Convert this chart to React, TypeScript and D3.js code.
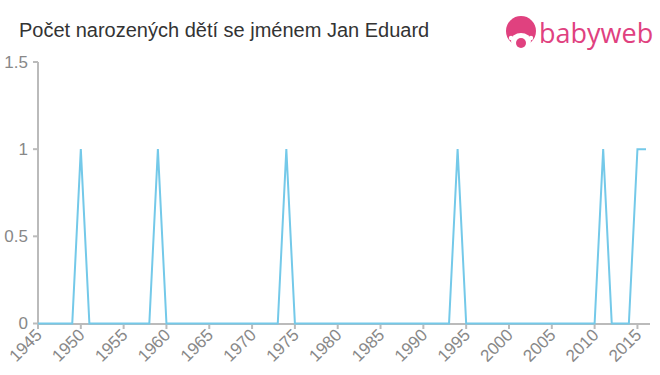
import React from "react";
import * as d3 from "d3";

const years: number[] = [
  1945, 1946, 1947, 1948, 1949, 1950, 1951, 1952, 1953, 1954, 1955, 1956, 1957, 1958, 1959, 1960,
  1961, 1962, 1963, 1964, 1965, 1966, 1967, 1968, 1969, 1970, 1971, 1972, 1973, 1974, 1975, 1976,
  1977, 1978, 1979, 1980, 1981, 1982, 1983, 1984, 1985, 1986, 1987, 1988, 1989, 1990, 1991, 1992,
  1993, 1994, 1995, 1996, 1997, 1998, 1999, 2000, 2001, 2002, 2003, 2004, 2005, 2006, 2007, 2008,
  2009, 2010, 2011, 2012, 2013, 2014, 2015, 2016,
];
const counts: number[] = [
  0, 0, 0, 0, 0, 1, 0, 0, 0, 0, 0, 0, 0, 0, 1, 0,
  0, 0, 0, 0, 0, 0, 0, 0, 0, 0, 0, 0, 0, 1, 0, 0,
  0, 0, 0, 0, 0, 0, 0, 0, 0, 0, 0, 0, 0, 0, 0, 0,
  0, 1, 0, 0, 0, 0, 0, 0, 0, 0, 0, 0, 0, 0, 0, 0,
  0, 0, 1, 0, 0, 0, 1, 1,
];
const xTicks: number[] = [1945, 1950, 1955, 1960, 1965, 1970, 1975, 1980, 1985, 1990, 1995, 2000, 2005, 2010, 2015];
const yTicks: number[] = [0, 0.5, 1, 1.5];
const yTickLabels: string[] = ["0", "0.5", "1", "1.5"];
const title = "Počet narozených dětí se jménem Jan Eduard";

export default function App() {
  const W = 660, H = 375;
  const x = d3.scaleLinear().domain([1945, 2016]).range([38, 646]);
  const y = d3.scaleLinear().domain([0, 1.5]).range([323.5, 62]);
  const pts = years.map((yr, i) => [yr, counts[i]] as [number, number]);
  const line = d3.line<[number, number]>().x(d => x(d[0])).y(d => y(d[1]));
  const axisColor = "#bbbbbb";
  const textColor = "#888888";
  const font = "Arial, 'Liberation Sans', sans-serif";
  return (
    <svg width={W} height={H} style={{ position: "absolute", left: 0, top: 0 }} fontFamily={font}>
      <rect width={W} height={H} fill="#ffffff" />
      <text x={19} y={37} fontSize={20} fill="#333333">{title}</text>
      {/* logo */}
      <g>
        <circle cx={521} cy={31} r={15} fill="#e0417f" />
        <ellipse cx={521} cy={41} rx={10} ry={8} fill="#ffffff" />
        <circle cx={521} cy={43} r={5} fill="#e0417f" />
        <circle cx={511} cy={38} r={2.2} fill="#ffffff" />
        <circle cx={531} cy={38} r={2.2} fill="#ffffff" />
        <text x={539} y={43} fontSize={27} fill="#e0417f" fontFamily="'Open Sans', Arial, sans-serif">babyweb</text>
      </g>
      {/* y axis */}
      <line x1={38} x2={38} y1={62} y2={324.5} stroke={axisColor} strokeWidth={2} />
      {yTicks.map((t, i) => (
        <g key={t}>
          <line x1={33} x2={38} y1={y(t)} y2={y(t)} stroke={axisColor} strokeWidth={2} />
          <text x={28} y={y(t)} dy="0.35em" textAnchor="end" fontSize={17} fill={textColor}>{yTickLabels[i]}</text>
        </g>
      ))}
      {/* x axis */}
      <line x1={37} x2={650} y1={324} y2={324} stroke={axisColor} strokeWidth={2} />
      {xTicks.map(t => (
        <g key={t} transform={`translate(${x(t)},324)`}>
          <line y1={0} y2={5} stroke={axisColor} strokeWidth={2} />
          <text transform="translate(5,12) rotate(-45)" textAnchor="end" fontSize={17} fill={textColor}>{t}</text>
        </g>
      ))}
      <path d={line(pts) || ""} fill="none" stroke="#74c9e9" strokeWidth={2} />
    </svg>
  );
}
